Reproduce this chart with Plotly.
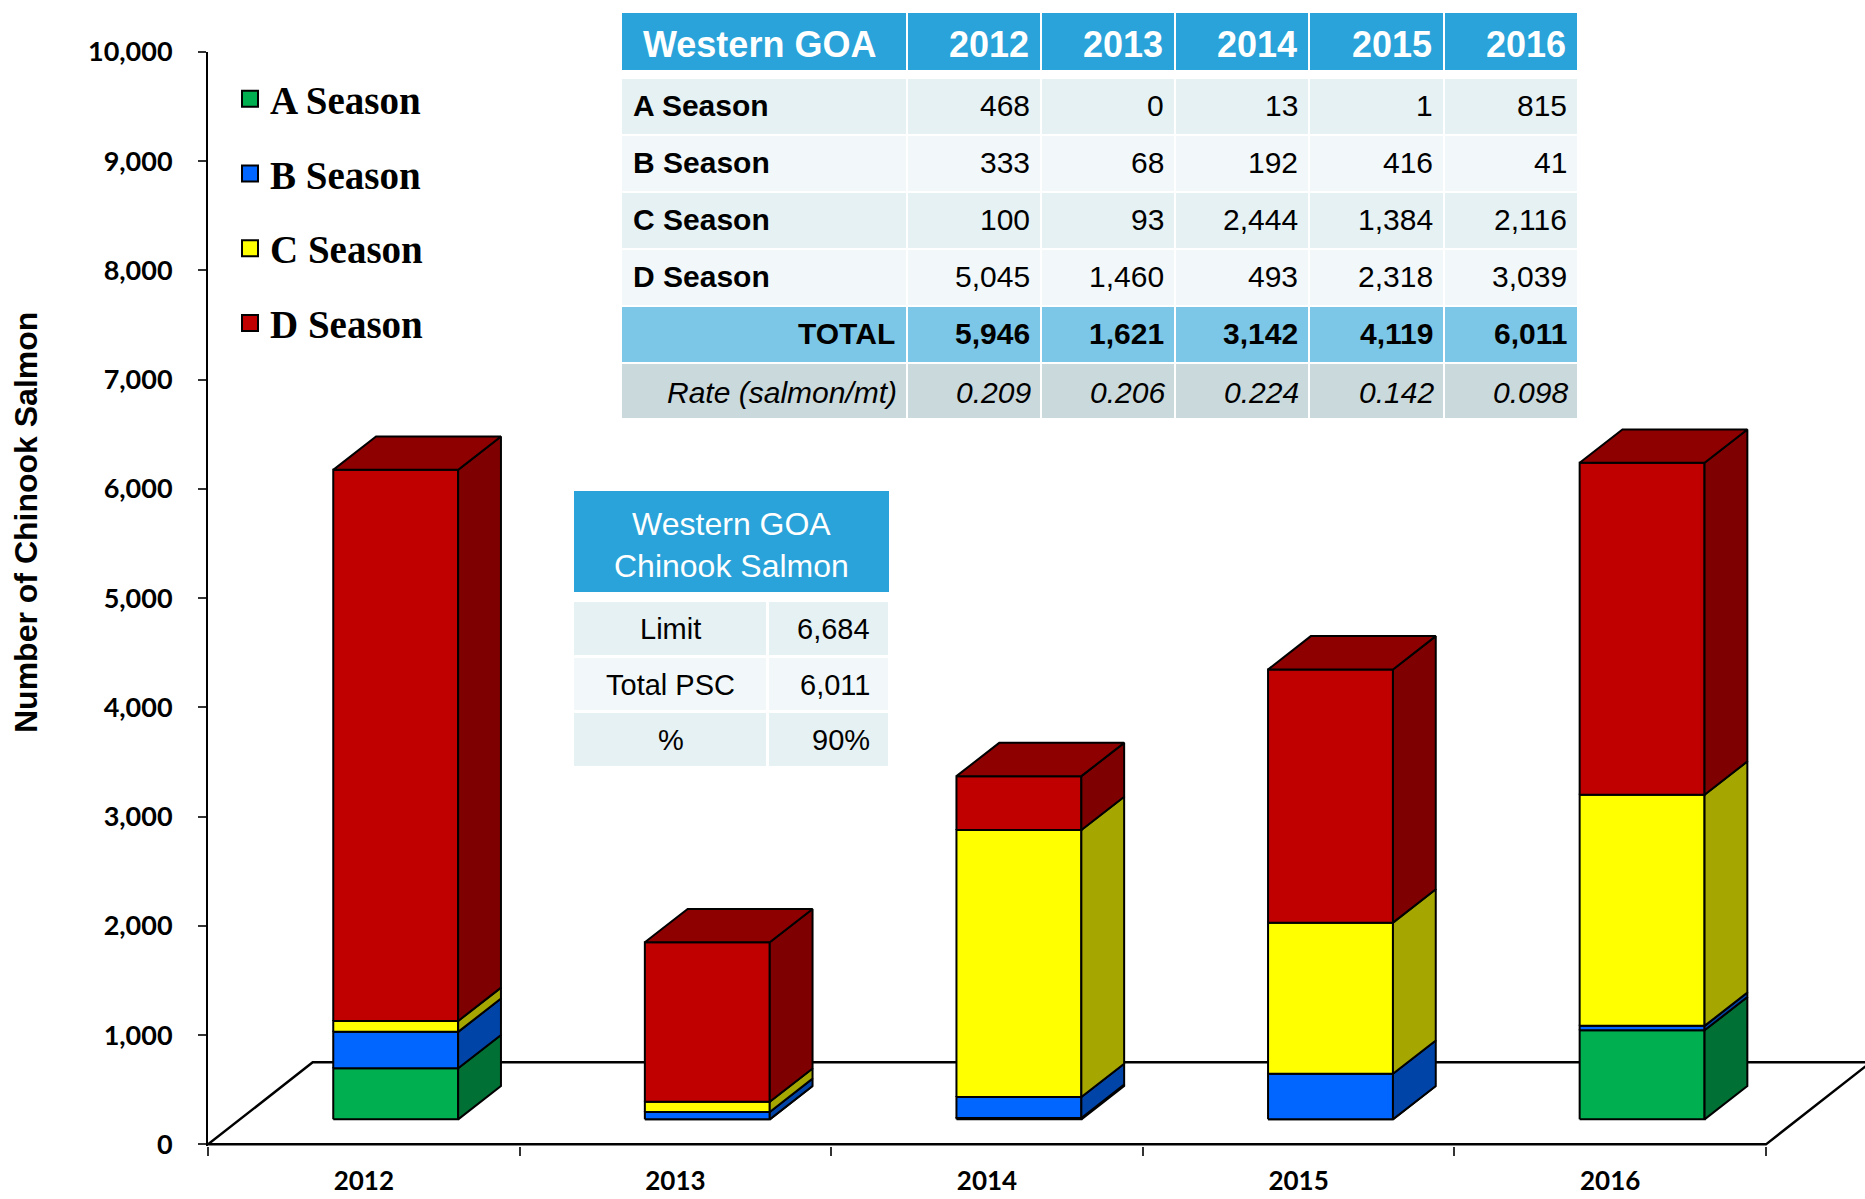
import plotly.graph_objects as go

FIG_W, FIG_H = 1865, 1199

# ---------------- data ----------------
years = ["2012", "2013", "2014", "2015", "2016"]
seasons = ["A Season", "B Season", "C Season", "D Season"]
a_season = [468, 0, 13, 1, 815]
b_season = [333, 68, 192, 416, 41]
c_season = [100, 93, 2444, 1384, 2116]
d_season = [5045, 1460, 493, 2318, 3039]
season_totals = [5946, 1621, 3142, 4119, 6011]
rates = [0.209, 0.206, 0.224, 0.142, 0.098]

psc_title = ["Western GOA", "Chinook Salmon"]
psc_labels = ["Limit", "Total PSC", "%"]
psc_values = ["6,684", "6,011", "90%"]

y_ticks = [0, 1000, 2000, 3000, 4000, 5000, 6000, 7000, 8000, 9000, 10000]

# ---------------- styles ----------------
FRONT = ["#00B050", "#0066FF", "#FFFF00", "#C00000"]
SIDE = ["#007034", "#0044A8", "#A6A600", "#7F0000"]
TOP = ["#00903F", "#0052D0", "#D4D400", "#8E0000"]
CELL_COLORS = ["#29A3D9", "#E6F1F4", "#F2F8FA", "#7CC7E7", "#CAD9DC"]

SANS = "Liberation Sans, Arial, sans-serif"
NARROW = "Liberation Sans Narrow, Arial Narrow, Liberation Sans, Arial, sans-serif"
SERIF = "Liberation Serif, Times New Roman, serif"
TICKF = "Lato, Carlito, Calibri, sans-serif"

# plot area (pixels) and unit conversion for the pseudo-3D depth
PLOT_L, PLOT_T, PLOT_B = 208, 52, 1146
Y_MIN, Y_MAX = -15, 10000
CAT_PX = 311.6
X_MAX = (FIG_W - PLOT_L) / CAT_PX
PX_PER_UNIT = (PLOT_B - PLOT_T) / (Y_MAX - Y_MIN)


def ux(px):
    return px / CAT_PX


def uy(px):
    return px / PX_PER_UNIT


FLOOR_DX, FLOOR_DY = ux(104.7), uy(82.1)
BAR_W = ux(124.9)
BAR_SHIFT_X, BAR_BASE = ux(31.9), uy(25.0)
DEPTH_DX, DEPTH_DY = ux(42.8), uy(33.3)

fig = go.Figure()

# floor of the 3D plot area
n = len(years)
fig.add_trace(go.Scatter(
    x=[0, n, n + FLOOR_DX, FLOOR_DX, 0],
    y=[0, 0, FLOOR_DY, FLOOR_DY, 0],
    mode="lines", line=dict(color="black", width=2.5),
    hoverinfo="skip", showlegend=False, cliponaxis=False,
))

# stacked boxes: front, side and top faces grouped by colour
stacks = [a_season, b_season, c_season, d_season]
fx = [[] for _ in stacks]
fy = [[] for _ in stacks]
sx = [[] for _ in stacks]
sy = [[] for _ in stacks]
tx = [[] for _ in stacks]
ty = [[] for _ in stacks]
for i in range(n):
    x0 = i + 0.5 + BAR_SHIFT_X - BAR_W / 2
    x1 = x0 + BAR_W
    base = BAR_BASE
    top_s = 0
    for s, vals in enumerate(stacks):
        v = vals[i]
        y0, y1 = base, base + v
        fx[s] += [x0, x1, x1, x0, x0, None]
        fy[s] += [y0, y0, y1, y1, y0, None]
        sx[s] += [x1, x1 + DEPTH_DX, x1 + DEPTH_DX, x1, x1, None]
        sy[s] += [y0, y0 + DEPTH_DY, y1 + DEPTH_DY, y1, y0, None]
        base = y1
        if v > 0:
            top_s = s
    tx[top_s] += [x0, x0 + DEPTH_DX, x1 + DEPTH_DX, x1, x0, None]
    ty[top_s] += [base, base + DEPTH_DY, base + DEPTH_DY, base, base, None]

for s in range(len(stacks)):
    for xs, ys, col in ((fx[s], fy[s], FRONT[s]), (sx[s], sy[s], SIDE[s]),
                        (tx[s], ty[s], TOP[s])):
        if not xs:
            continue
        fig.add_trace(go.Scatter(
            x=xs, y=ys, mode="lines", fill="toself", fillcolor=col,
            line=dict(color="black", width=2), hoverinfo="skip",
            showlegend=False,
        ))

# legend entries
for s, name in enumerate(seasons):
    fig.add_trace(go.Scatter(
        x=[None], y=[None], mode="markers", name=name, legendgroup=name,
        marker=dict(symbol="square", size=20, color=FRONT[s],
                    line=dict(color="black", width=2)),
    ))

# ---------------- summary table (top) ----------------
cscale = [[k / 4, c] for k, c in enumerate(CELL_COLORS)]
t_widths = [286, 134, 134, 134, 135, 134]
t_heights = [59, 7, 57, 57, 57, 57, 57, 56]
t_xe = [0]
for w in t_widths:
    t_xe.append(t_xe[-1] + w)
t_ye = [0]
for h in t_heights:
    t_ye.append(t_ye[-1] + h)
ncol = len(t_widths)
t_z = [[0] * ncol, [None] * ncol, [1] * ncol, [2] * ncol, [1] * ncol,
       [2] * ncol, [3] * ncol, [4] * ncol]
fig.add_trace(go.Heatmap(
    x=t_xe, y=t_ye, z=t_z, zmin=0, zmax=4, colorscale=cscale, showscale=False,
    xgap=2, ygap=2, hoverinfo="skip", xaxis="x2", yaxis="y2",
))

# ---------------- PSC table (inset) ----------------
p_widths = [195, 122]
p_heights = [103, 8, 55.7, 55.7, 55.6]
p_xe = [0, p_widths[0], p_widths[0] + p_widths[1]]
p_ye = [0]
for h in p_heights:
    p_ye.append(p_ye[-1] + h)
fig.add_trace(go.Heatmap(
    x=[0, p_xe[-1]], y=[0, p_heights[0]], z=[[0]], zmin=0, zmax=4,
    colorscale=cscale, showscale=False, xgap=2, ygap=2, hoverinfo="skip",
    xaxis="x3", yaxis="y3",
))
fig.add_trace(go.Heatmap(
    x=p_xe, y=p_ye[2:], z=[[1, 1], [2, 2], [1, 1]], zmin=0, zmax=4,
    colorscale=cscale, showscale=False, xgap=3, ygap=3, hoverinfo="skip",
    xaxis="x3", yaxis="y3",
))

annotations = []


def cell_text(text, x, y, ref, anchor, size, color="black", weight="normal",
              style="normal", family=SANS):
    annotations.append(dict(
        text=text, x=x, y=y, xref="x" + ref, yref="y" + ref, xanchor=anchor,
        yanchor="middle", showarrow=False,
        font=dict(family=family, size=size, color=color, weight=weight,
                  style=style),
    ))


def mid(edges, k):
    return (edges[k] + edges[k + 1]) / 2


# header row
hdr_y = mid(t_ye, 0) + 3
cell_text("Western GOA", 20, hdr_y, "2", "left", 36, "white", "bold")
for j, yr in enumerate(years):
    cell_text(yr, t_xe[j + 2] - 10, hdr_y, "2", "right", 36, "white", "bold")
# season rows
for r, (name, vals) in enumerate(zip(seasons, stacks)):
    row = 2 + r
    yc = mid(t_ye, row) - 1.5
    cell_text(name, 10, yc, "2", "left", 30, weight="bold")
    for j, v in enumerate(vals):
        cell_text(f"{v:,}", t_xe[j + 2] - 9, yc, "2", "right", 30)
# totals
yc = mid(t_ye, 6) - 1
cell_text("TOTAL", t_xe[1] - 10, yc, "2", "right", 30, weight="bold")
for j, v in enumerate(season_totals):
    cell_text(f"{v:,}", t_xe[j + 2] - 9, yc, "2", "right", 30, weight="bold")
# rates
yc = mid(t_ye, 7) + 1
cell_text("Rate (salmon/mt)", t_xe[1] - 8, yc, "2", "right", 30, style="italic")
for j, v in enumerate(rates):
    cell_text(f"{v:.3f}", t_xe[j + 2] - 8, yc, "2", "right", 30, style="italic")

# inset table texts
cell_text("<br>".join(psc_title), p_xe[-1] / 2, p_heights[0] / 2 + 3, "3", "center",
          32, "white")
for r, (lab, val) in enumerate(zip(psc_labels, psc_values)):
    yc = mid(p_ye, 2 + r)
    cell_text(lab, p_widths[0] / 2, yc, "3", "center", 29, family=NARROW)
    cell_text(val, p_xe[-1] - 18, yc, "3", "right", 29, family=NARROW)

# y-axis title
annotations.append(dict(
    text="Number of Chinook Salmon", x=26 / FIG_W, y=1 - 523 / FIG_H,
    xref="paper", yref="paper", xanchor="center", yanchor="middle",
    textangle=-90, showarrow=False,
    font=dict(family=SANS, size=32, color="black", weight="bold"),
))

hidden = dict(visible=False, showgrid=False, zeroline=False, fixedrange=True,
              automargin=False)

fig.update_layout(
    width=FIG_W, height=FIG_H,
    margin=dict(l=0, r=0, t=0, b=0, autoexpand=False),
    paper_bgcolor="white", plot_bgcolor="white",
    showlegend=True,
    legend=dict(
        x=230 / FIG_W, y=1 - 67 / FIG_H, xanchor="left", yanchor="top",
        traceorder="grouped", tracegroupgap=21, bgcolor="rgba(0,0,0,0)",
        font=dict(family=SERIF, size=39, color="black", weight="bold"),
    ),
    xaxis=dict(
        domain=[PLOT_L / FIG_W, 1], range=[0, X_MAX], automargin=False,
        tickvals=[i + 0.5 for i in range(n)], ticktext=years, ticks="",
        showline=False, showgrid=False, zeroline=False,
        minor=dict(tickmode="array", tickvals=list(range(n + 1)),
                   ticks="outside", ticklen=9, tickwidth=1.5,
                   tickcolor="#333333", showgrid=False),
        ticklabelstandoff=17,
        tickfont=dict(family=TICKF, size=26, color="black", weight="bold"),
    ),
    yaxis=dict(
        domain=[1 - PLOT_B / FIG_H, 1 - PLOT_T / FIG_H], range=[Y_MIN, Y_MAX],
        automargin=False,
        tickvals=y_ticks, tickformat=",d", ticks="outside", ticklen=8,
        tickwidth=1.5, tickcolor="#333333", showline=True, linewidth=2,
        linecolor="black", showgrid=False, zeroline=False,
        ticklabelstandoff=20,
        tickfont=dict(family=TICKF, size=27, color="black", weight="bold"),
    ),
    xaxis2=dict(hidden, domain=[621 / FIG_W, 1578 / FIG_W], range=[0, t_xe[-1]],
                anchor="y2"),
    yaxis2=dict(hidden, domain=[1 - 419 / FIG_H, 1 - 12 / FIG_H],
                range=[t_ye[-1], 0], anchor="x2"),
    xaxis3=dict(hidden, domain=[573 / FIG_W, 890 / FIG_W], range=[0, p_xe[-1]],
                anchor="y3"),
    yaxis3=dict(hidden, domain=[1 - 768 / FIG_H, 1 - 490 / FIG_H],
                range=[p_ye[-1], 0], anchor="x3"),
    annotations=annotations,
)

fig.write_html("out.html")
